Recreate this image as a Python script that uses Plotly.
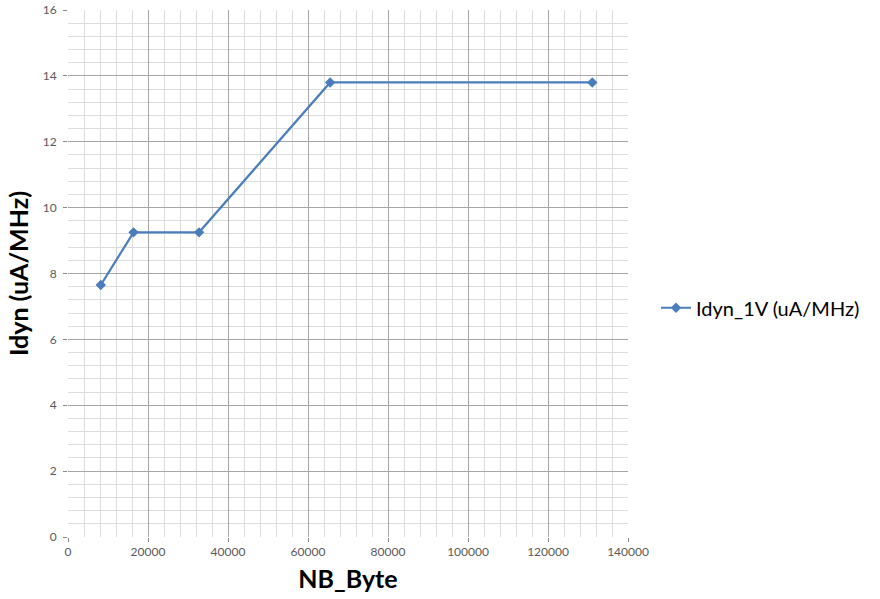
import plotly.graph_objects as go

# --------------------
# Data
# --------------------
nb_byte = [8192, 16384, 32768, 65536, 131072]
idyn_1v = [7.65, 9.25, 9.25, 13.8, 13.8]

series_name = "Idyn_1V (uA/MHz)"
x_title = "NB_Byte"
y_title = "Idyn (uA/MHz)"

line_color = "#4a7ebb"
font_family = "Lato, 'Open Sans', sans-serif"

# --------------------
# Plot
# --------------------
fig = go.Figure()

fig.add_trace(go.Scatter(
    x=nb_byte,
    y=idyn_1v,
    mode="lines+markers",
    name=series_name,
    line=dict(color=line_color, width=2.2),
    marker=dict(symbol="diamond", size=8, color=line_color),
))

axis_common = dict(
    showgrid=True,
    gridcolor="#a6a6a6",
    gridwidth=1,
    zeroline=False,
    showline=False,
    automargin=False,
    ticks="outside",
    ticklen=4,
    tickcolor="#888888",
    tickformat="d",
    tickfont=dict(family=font_family, size=12, color="#595959"),
)

fig.update_xaxes(
    range=[0, 140000],
    dtick=20000,
    minor=dict(dtick=4000, showgrid=True, gridcolor="#dcdcdc", gridwidth=1),
    title=dict(text=x_title, font=dict(family=font_family, size=25, color="black", weight="bold"), standoff=12),
    **axis_common,
)
fig.update_yaxes(
    range=[0, 16],
    dtick=2,
    ticklabelstandoff=4,
    minor=dict(dtick=0.4, showgrid=True, gridcolor="#dcdcdc", gridwidth=1),
    title=dict(text=y_title, font=dict(family=font_family, size=25, color="black", weight="bold"), standoff=6),
    **axis_common,
)

fig.update_layout(
    width=880,
    height=599,
    margin=dict(l=68, r=252, t=10, b=62),
    paper_bgcolor="white",
    plot_bgcolor="white",
    showlegend=True,
    legend=dict(
        x=1.05, y=0.435, xanchor="left", yanchor="middle",
        font=dict(family=font_family, size=20, color="black"),
        bgcolor="rgba(0,0,0,0)",
        itemwidth=30,
    ),
)

# drop the default body margin so the figure sits at the page corner
fig.write_html(
    "out.html",
    config={"displayModeBar": False},
    post_script="document.body.style.margin = '0';",
)
